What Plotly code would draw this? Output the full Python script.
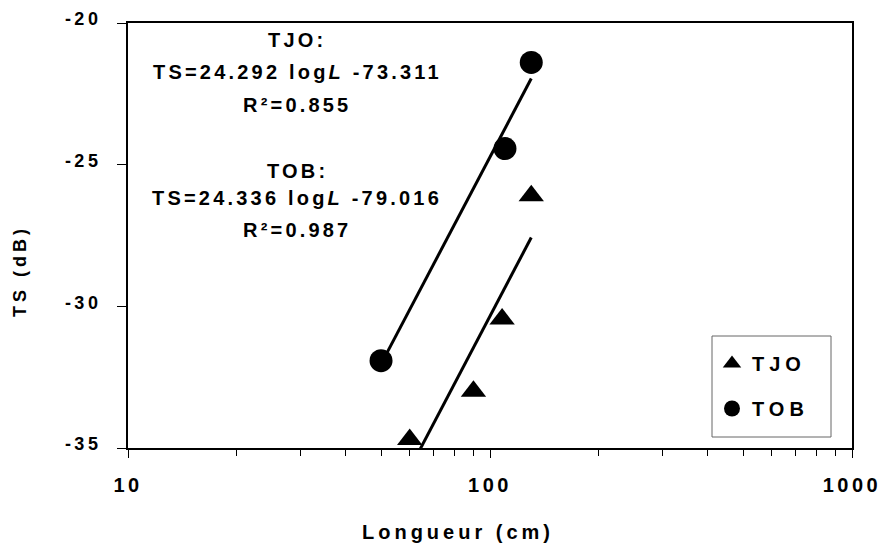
import numpy as np
import plotly.graph_objects as go

# Fish length (cm) and target strength (dB) for the two groups
tjo_length = [60, 90, 108, 130]
tjo_ts = [-34.7, -33.0, -30.45, -26.1]
tob_length = [50, 110, 130]
tob_ts = [-31.92, -24.43, -21.39]

# Regression equations as printed on the chart: TS = a*log(L) + b
eq_tjo = (24.292, -73.311)
eq_tob = (24.336, -79.016)
r2_tjo = 0.855
r2_tob = 0.987

# Length span over which each regression line is drawn
fit_span_tjo = [50, 130]
fit_span_tob = [60, 130]

x_tickvals = [10, 100, 1000]
x_ticktext = ["10", "100", "1000"]
y_tickvals = [-20, -25, -30, -35]
y_ticktext = ["-20", "-25", "-30", "-35"]

FONT = "Liberation Sans, Arial, sans-serif"


def spaced(text, px):
    return f'<b><span style="letter-spacing:{px}px">{text}</span></b>'


def fit_line(eq, span):
    a, b = eq
    L = np.array(span, dtype=float)
    return L, a * np.log10(L) + b


fig = go.Figure()

for eq, span in ((eq_tjo, fit_span_tjo), (eq_tob, fit_span_tob)):
    lx, ly = fit_line(eq, span)
    fig.add_trace(go.Scatter(
        x=lx, y=ly, mode="lines",
        line=dict(color="black", width=3),
        showlegend=False, hoverinfo="skip",
    ))

fig.add_trace(go.Scatter(
    x=tjo_length, y=tjo_ts, mode="markers", name=spaced("TJO", 5),
    marker=dict(symbol="triangle-up", size=22, color="black"),
    cliponaxis=False, legendgroup="a",
))
fig.add_trace(go.Scatter(
    x=tob_length, y=tob_ts, mode="markers", name=spaced("TOB", 5),
    marker=dict(symbol="circle", size=23, color="black"),
    cliponaxis=False, legendgroup="b",
))

# Plot-area geometry in pixels, used to place the text blocks
L_M, R_M, T_M, B_M = 128, 31, 23, 96
W, H = 883, 544
pw, ph = W - L_M - R_M, H - T_M - B_M


def px_x(x):
    return (x - L_M) / pw


def px_y(y):
    return (H - B_M - y) / ph


ann_font = dict(family=FONT, size=20, color="black", weight="bold")
eq_lines = [
    ("TJO:", 40.5),
    (f"TS=24.292 log<i>L</i> -73.311", 72),
    (f"R²={r2_tjo:.3f}", 105),
    ("TOB:", 171.3),
    (f"TS=24.336 log<i>L</i> -79.016", 197.5),
    (f"R²={r2_tob:.3f}", 230),
]
for txt, ypix in eq_lines:
    fig.add_annotation(
        x=px_x(297), y=px_y(ypix), xref="paper", yref="paper",
        text=spaced(txt, 3.2), showarrow=False,
        xanchor="center", yanchor="middle", font=ann_font,
    )

# Axis titles
fig.add_annotation(
    x=px_x(458), y=px_y(532), xref="paper", yref="paper",
    text=spaced("Longueur (cm)", 4.0), showarrow=False,
    xanchor="center", yanchor="middle", font=ann_font,
)
fig.add_annotation(
    x=px_x(20), y=px_y(271), xref="paper", yref="paper",
    text=spaced("TS (dB)", 4.0), showarrow=False, textangle=-90,
    xanchor="center", yanchor="middle",
    font=dict(family=FONT, size=18, color="black", weight="bold"),
)

# Legend frame
fig.add_shape(
    type="rect", xref="paper", yref="paper",
    x0=px_x(712), x1=px_x(831), y0=px_y(437), y1=px_y(336),
    line=dict(color="#666666", width=1), fillcolor="white", layer="above",
)

fig.update_xaxes(
    type="log", range=[1, 3], automargin=False,
    tickmode="array", tickvals=x_tickvals,
    ticktext=[spaced(t, 3.5) for t in x_ticktext],
    ticks="outside", ticklen=8, tickwidth=1, tickcolor="black",
    minor=dict(ticks="outside", ticklen=6, tickwidth=1, tickcolor="black",
               dtick="D1", showgrid=False),
    showline=True, linewidth=2, linecolor="black", mirror=True,
    showgrid=False, zeroline=False,
    tickfont=dict(family=FONT, size=20, color="black", weight=700),
    ticklabelstandoff=10,
)
fig.update_yaxes(
    range=[-35, -20], automargin=False,
    tickmode="array", tickvals=y_tickvals,
    ticktext=[spaced(t, 3.5) for t in y_ticktext],
    ticks="outside", ticklen=9, tickwidth=1, tickcolor="black",
    showline=True, linewidth=2, linecolor="black", mirror=True,
    showgrid=False, zeroline=False,
    tickfont=dict(family=FONT, size=18, color="black", weight=700),
    ticklabelstandoff=12, ticklabelshift=-4,
)

fig.update_layout(
    width=W, height=H,
    margin=dict(l=L_M, r=R_M, t=T_M, b=B_M, pad=0, autoexpand=False),
    paper_bgcolor="white", plot_bgcolor="white",
    font=dict(family=FONT, color="black"),
    showlegend=True,
    legend=dict(
        x=px_x(712), y=px_y(344), xanchor="left", yanchor="top",
        bgcolor="rgba(0,0,0,0)", borderwidth=0,
        font=dict(family=FONT, size=20, color="black", weight="bold"),
        tracegroupgap=16, traceorder="grouped",
    ),
)

fig.write_html("out.html", config={"displayModeBar": False})
